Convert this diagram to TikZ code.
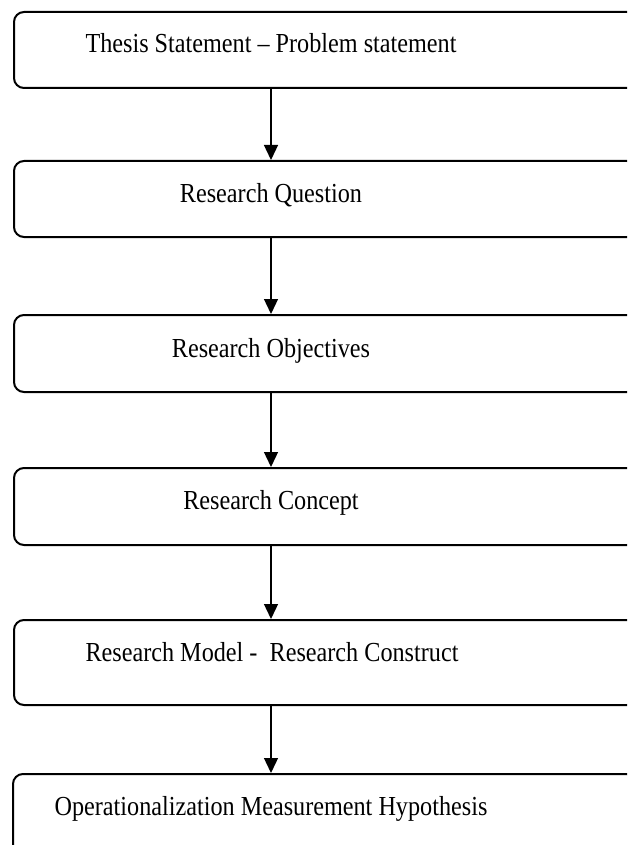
\documentclass[tikz,border=0pt]{standalone}
\usepackage{fontspec}
\setmainfont{Liberation Serif}[FakeStretch=0.88]
\usetikzlibrary{arrows.meta}

\begin{document}
\begin{tikzpicture}[x=1pt, y=-1pt, >={Triangle[width=14pt,length=15pt]},
		stage/.style={draw, line width=2pt, rounded corners=10pt, anchor=north west, minimum width=623pt, inner sep=0pt},
		caption/.style={anchor=base, inner sep=0pt, font=\fontsize{27.5}{33}\selectfont},
		flow/.style={->, line width=1.3pt}]
		\clip (0,0) rectangle (627,845);
		% boxes (they run out of the picture on the right)
		\node[stage, minimum height=76pt] (stmt) at (13,11) {};
		\node[stage, minimum height=76pt] (question) at (13,160) {};
		\node[stage, minimum height=77pt] (objectives) at (13,314) {};
		\node[stage, minimum height=77pt] (concept) at (13,467) {};
		\node[stage, minimum height=85pt] (model) at (13,619) {};
		\node[stage, minimum height=90pt] (oper) at (12,773) {};
		% texts
		\node[caption] (tstmt) at (271,53) {Thesis Statement -- Problem statement};
		\node[caption] (tquestion) at (271,202) {Research Question};
		\node[caption] (tobjectives) at (271,357) {Research Objectives};
		\node[caption] (tconcept) at (271,509) {Research Concept};
		\node[caption] (tmodel) at (272,661) {Research Model -\ \ Research Construct};
		\node[caption] (toper) at (271,815) {Operationalization Measurement Hypothesis};
		% arrows
		\draw[flow] (tstmt |- stmt.south) -- (tstmt |- question.north);
		\draw[flow] (tstmt |- question.south) -- (tstmt |- objectives.north);
		\draw[flow] (tstmt |- objectives.south) -- (tstmt |- concept.north);
		\draw[flow] (tstmt |- concept.south) -- (tstmt |- model.north);
		\draw[flow] (tstmt |- model.south) -- (tstmt |- oper.north);
	\end{tikzpicture}
\end{document}
